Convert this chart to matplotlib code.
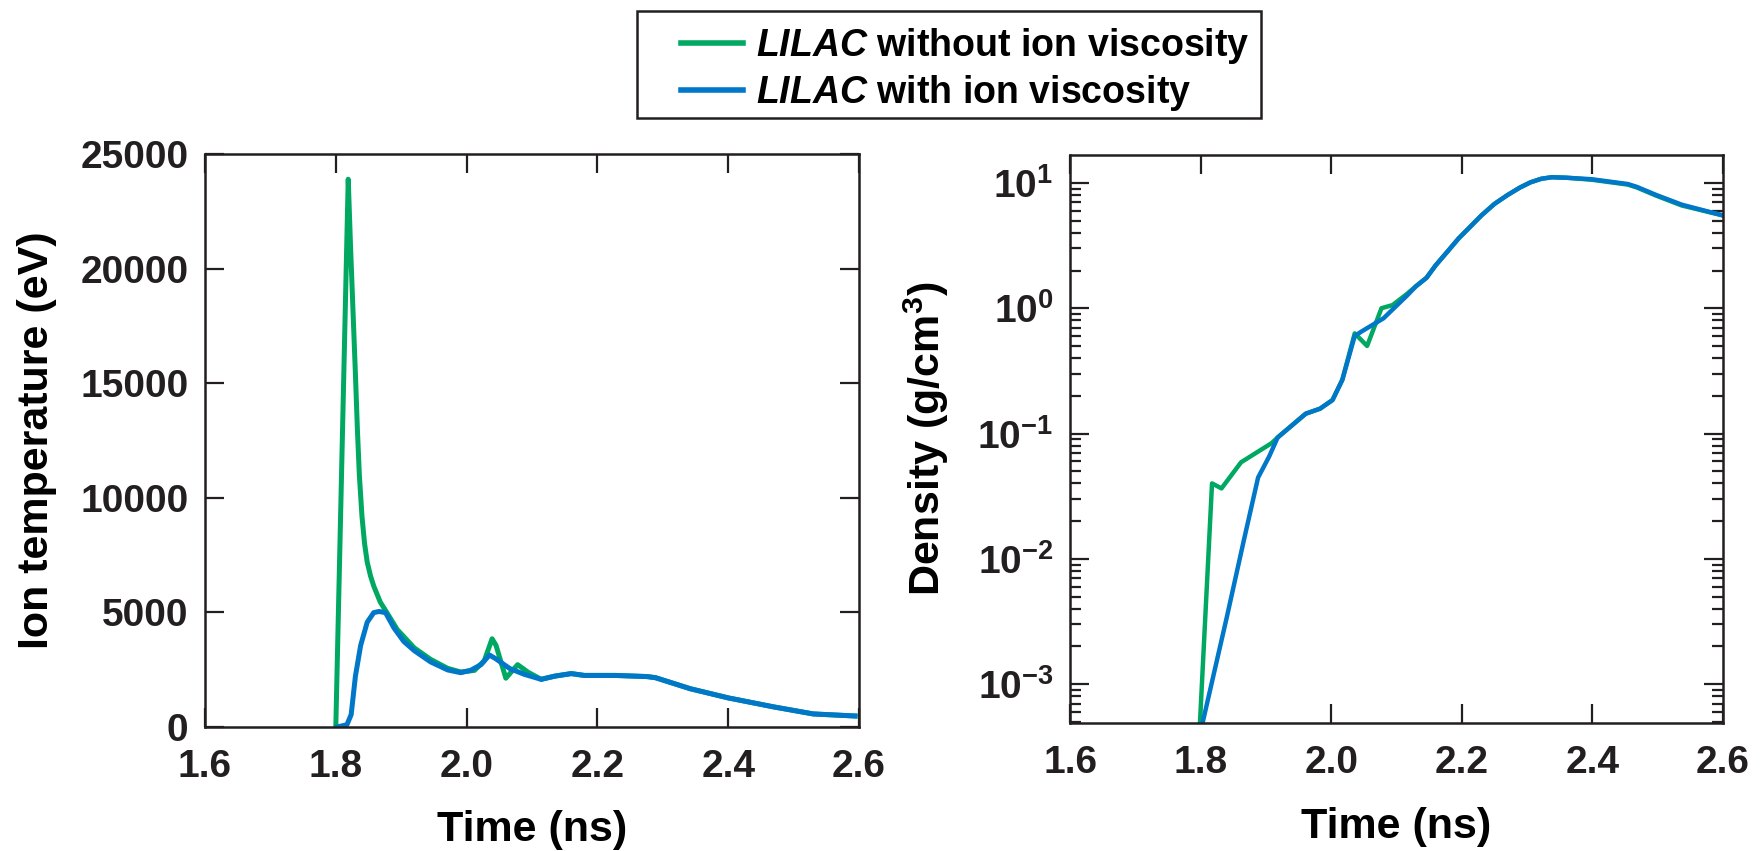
import numpy as np
import matplotlib
matplotlib.use("Agg")
import matplotlib.pyplot as plt
from matplotlib.patches import Rectangle
from matplotlib.ticker import FixedLocator, FuncFormatter, LogLocator, NullFormatter

plt.rcParams.update({
    "font.family": "Liberation Sans",
    "font.weight": "bold",
    "mathtext.fontset": "custom",
    "mathtext.rm": "Liberation Sans:bold",
    "mathtext.bf": "Liberation Sans:bold",
    "mathtext.it": "Liberation Sans:bold:italic",
    "axes.linewidth": 1.8,
})

COR_SEM = "#00a862"   # verde
COR_COM = "#0077c8"   # azul
COR_EIXO = "#231f20"

# --- temperatura ionica (eV) ---
t_temp_sem = [1.800, 1.819, 1.8225, 1.8265, 1.830, 1.833, 1.836, 1.840, 1.844,
              1.848, 1.853, 1.858, 1.868, 1.879, 1.894, 1.920, 1.945, 1.971,
              1.991, 2.012, 2.027, 2.039, 2.045, 2.060, 2.078, 2.094, 2.114,
              2.135, 2.160, 2.180, 2.227, 2.276, 2.289, 2.342, 2.400, 2.469,
              2.530, 2.594]
T_sem = [0, 23900, 21000, 18000, 15400, 13000, 11000, 9200, 8000,
         7200, 6600, 6150, 5450, 4950, 4250, 3450, 2950, 2560,
         2400, 2470, 2890, 3850, 3560, 2130, 2720, 2390, 2080,
         2220, 2330, 2250, 2250, 2200, 2150, 1670, 1270, 880,
         570, 480]

t_temp_com = [1.802, 1.817, 1.8235, 1.830, 1.838, 1.848, 1.858, 1.866, 1.876,
              1.889, 1.904, 1.920, 1.945, 1.971, 1.991, 2.006, 2.022, 2.035,
              2.045, 2.066, 2.088, 2.114, 2.135, 2.160, 2.180, 2.227, 2.276,
              2.289, 2.342, 2.400, 2.469, 2.530, 2.594]
T_com = [0, 100, 540, 2220, 3560, 4570, 4990, 5040, 4990,
         4320, 3730, 3330, 2840, 2490, 2370, 2470, 2720, 3140,
         2970, 2550, 2300, 2080, 2220, 2330, 2250, 2250, 2200,
         2150, 1670, 1270, 880, 570, 480]

# --- densidade (g/cm3) ---
t_dens_sem = [1.799, 1.8175, 1.832, 1.862, 1.909, 1.918, 1.961, 1.983, 2.002,
              2.017, 2.036, 2.055, 2.077, 2.094, 2.116, 2.130, 2.146, 2.160,
              2.179, 2.195, 2.212, 2.230, 2.250, 2.270, 2.289, 2.305, 2.322,
              2.338, 2.360, 2.399, 2.454, 2.468, 2.498, 2.537, 2.600]
rho_sem = [4.9e-4, 0.040, 0.0365, 0.059, 0.084, 0.093, 0.144, 0.158, 0.185,
           0.268, 0.63, 0.50, 1.00, 1.06, 1.30, 1.50, 1.75, 2.20,
           2.87, 3.60, 4.42, 5.50, 6.80, 8.00, 9.18, 10.1, 10.8,
           11.1, 11.0, 10.6, 9.7, 9.2, 7.9, 6.6, 5.5]

t_dens_com = [1.803, 1.840, 1.866, 1.888, 1.905, 1.918, 1.961, 1.983, 2.002,
              2.017, 2.036, 2.046, 2.080, 2.116, 2.130, 2.146, 2.160,
              2.179, 2.195, 2.212, 2.230, 2.250, 2.270, 2.289, 2.305, 2.322,
              2.338, 2.360, 2.399, 2.454, 2.468, 2.498, 2.537, 2.600]
rho_com = [4.9e-4, 0.0034, 0.0139, 0.0445, 0.0656, 0.093, 0.144, 0.158, 0.185,
           0.268, 0.60, 0.65, 0.83, 1.26, 1.50, 1.75, 2.20,
           2.87, 3.60, 4.42, 5.50, 6.80, 8.00, 9.18, 10.1, 10.8,
           11.1, 11.0, 10.7, 9.8, 9.3, 8.0, 6.7, 5.5]

x_ticks = [1.6, 1.8, 2.0, 2.2, 2.4, 2.6]
y_ticks_temp = [0, 5000, 10000, 15000, 20000, 25000]
y_ticks_dens = [1e-3, 1e-2, 1e-1, 1e0, 1e1]

LABEL_SEM = r"$\mathit{LILAC}$ without ion viscosity"
LABEL_COM = r"$\mathit{LILAC}$ with ion viscosity"

FS_TICK = 28
FS_LABEL = 31
FS_LEG = 27

fig = plt.figure(figsize=(17.64, 8.51), dpi=100)
ax1 = fig.add_axes([205 / 1764, 124 / 851, 654 / 1764, 573 / 851])
ax2 = fig.add_axes([1070 / 1764, 128 / 851, 653 / 1764, 568 / 851])


def estilo_eixos(ax):
    ax.tick_params(which="major", direction="in", length=14, width=1.6,
                   labelsize=FS_TICK, top=True, right=True, colors=COR_EIXO)
    ax.tick_params(axis="x", which="major", pad=16)
    ax.tick_params(axis="y", which="major", pad=12)
    for sp in ax.spines.values():
        sp.set_color(COR_EIXO)


# painel da esquerda
l1, = ax1.plot(t_temp_sem, T_sem, color=COR_SEM, lw=3.6, solid_joinstyle="round")
l2, = ax1.plot(t_temp_com, T_com, color=COR_COM, lw=3.6, solid_joinstyle="round")
ax1.set_xlim(1.6, 2.6)
ax1.set_ylim(0, 25000)
ax1.set_xticks(x_ticks)
ax1.set_xticklabels([f"{v:.1f}" for v in x_ticks])
ax1.set_yticks(y_ticks_temp)
ax1.set_yticklabels([str(v) for v in y_ticks_temp])
estilo_eixos(ax1)
ax1.set_xlabel("Time (ns)", fontsize=FS_LABEL, fontweight="bold")
ax1.set_ylabel("Ion temperature (eV)", fontsize=FS_LABEL, fontweight="bold")
ax1.xaxis.set_label_coords(0.5, -0.145)
ax1.yaxis.set_label_coords(-0.226, 0.5)

# painel da direita
ax2.plot(t_dens_sem, rho_sem, color=COR_SEM, lw=3.2, solid_joinstyle="round")
ax2.plot(t_dens_com, rho_com, color=COR_COM, lw=3.2, solid_joinstyle="round")
ax2.set_yscale("log")
ax2.set_xlim(1.6, 2.6)
ax2.set_ylim(4.9e-4, 16.7)
ax2.set_xticks(x_ticks)
ax2.set_xticklabels([f"{v:.1f}" for v in x_ticks])
ax2.yaxis.set_major_locator(FixedLocator(y_ticks_dens))
ax2.yaxis.set_major_formatter(FuncFormatter(lambda v, p: r"$10^{%d}$" % round(np.log10(v))))
ax2.yaxis.set_minor_locator(LogLocator(base=10, subs=np.arange(2, 10), numticks=20))
ax2.yaxis.set_minor_formatter(NullFormatter())
estilo_eixos(ax2)
ax2.tick_params(axis="y", which="minor", direction="in", length=8, width=1.6,
                left=True, right=True, colors=COR_EIXO)
ax2.tick_params(axis="x", which="minor", bottom=False, top=False)
ax2.set_xlabel("Time (ns)", fontsize=FS_LABEL, fontweight="bold")
ax2.set_ylabel(r"Density (g/cm$^3$)", fontsize=FS_LABEL, fontweight="bold")
ax2.xaxis.set_label_coords(0.5, -0.148)
ax2.yaxis.set_label_coords(-0.183, 0.5)

# legenda: caixa desenhada a parte, entradas sem moldura
fig.patches.append(Rectangle((637 / 1764, 1 - 118 / 851), 624 / 1764, 107 / 851,
                             transform=fig.transFigure, fill=False,
                             edgecolor=COR_EIXO, linewidth=1.8))
leg = fig.legend([l1, l2], [LABEL_SEM, LABEL_COM],
                 loc="upper left", bbox_to_anchor=(681 / 1764, 1 - 26 / 851),
                 fontsize=FS_LEG, frameon=False,
                 handlelength=1.65, handletextpad=0.35, borderpad=0,
                 labelspacing=0.19, borderaxespad=0)
for ln in leg.get_lines():
    ln.set_linewidth(4)

fig.savefig("out.png", dpi=100)
